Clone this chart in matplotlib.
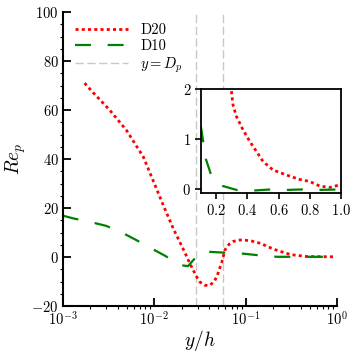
import matplotlib
matplotlib.use("Agg")
import matplotlib.pyplot as plt
import numpy as np

plt.rcParams['font.family'] = 'serif'
plt.rcParams['font.serif'] = ['cmr10', 'DejaVu Serif']
plt.rcParams['mathtext.fontset'] = 'cm'
plt.rcParams['axes.formatter.use_mathtext'] = True
plt.rcParams['axes.unicode_minus'] = True
plt.rcParams['lines.scale_dashes'] = False

# ---- data ----
d20_x = [0.00173, 0.00205, 0.00325, 0.00495, 0.00759, 0.00977, 0.0126, 0.0162,
         0.0209, 0.0245, 0.0290, 0.0316, 0.0355, 0.0398, 0.0447, 0.0484, 0.0550,
         0.0593, 0.0661, 0.0736, 0.0832, 0.0944, 0.117, 0.145, 0.202, 0.309, 0.468, 0.92]
d20_y = [71.0, 67.9, 60.0, 51.8, 40.9, 31.0, 21.0, 11.5,
         3.0, -2.6, -8.0, -10.2, -11.5, -11.6, -10.3, -8.0, -1.9,
         2.9, 5.3, 6.4, 6.9, 7.0, 6.5, 5.6, 3.2, 1.0, 0.2, 0.1]

d10_x = [0.001, 0.00129, 0.00196, 0.00299, 0.00437, 0.00638, 0.00933, 0.0133, 0.0191,
         0.0234, 0.0268, 0.031, 0.0376, 0.0571, 0.0871, 0.132, 0.219, 0.335, 0.708, 0.9]
d10_y = [16.9, 15.8, 14.4, 12.7, 10.1, 6.9, 3.5, 0.4, -3.3,
         -3.7, -1.2, 1.2, 2.2, 1.8, 1.5, 0.8, 0.1, 0.1, 0.1, 0.1]

dp_values = [0.0283, 0.0563]

ins_d20_x = [0.28, 0.297, 0.307, 0.329, 0.372, 0.415, 0.458, 0.50, 0.564, 0.65,
             0.736, 0.80, 0.864, 0.928, 0.993]
ins_d20_y = [2.2, 1.95, 1.68, 1.45, 1.18, 0.95, 0.75, 0.55, 0.38, 0.28,
             0.19, 0.15, 0.06, 0.03, 0.08]

ins_d10_x = [0.1, 0.115, 0.132, 0.164, 0.2, 0.24, 0.33, 0.45, 0.55, 0.65, 0.75, 0.85, 1.0]
ins_d10_y = [1.25, 0.95, 0.6, 0.3, 0.15, 0.06, -0.02, -0.03, -0.01, -0.02, -0.01, -0.02, -0.01]

xticks_main = [1e-3, 1e-2, 1e-1, 1e0]
yticks_main = [-20, 0, 20, 40, 60, 80, 100]
ins_xticks = [0.2, 0.4, 0.6, 0.8, 1.0]
ins_yticks = [0, 1, 2]

red_style = dict(color='red', lw=2.0, dashes=(2.2, 2.3))
green_style = dict(color='green', lw=1.6, dashes=(11.5, 12))

fig = plt.figure(figsize=(3.53, 3.53), dpi=100)
ax = fig.add_axes([0.178, 0.133, 0.777, 0.833])

ax.plot(d20_x, d20_y, label='D20', **red_style)
ax.plot(d10_x, d10_y, label='D10', **green_style)
for i, dp in enumerate(dp_values):
    ax.axvline(dp, color='#c8c8c8', lw=1.0, dashes=(6, 2.5),
               label='$y = D_p$' if i == 0 else None, zorder=0)

ax.set_xscale('log')
ax.set_xlim(1e-3, 1e0)
ax.set_ylim(-20, 100)
ax.set_xticks(xticks_main)
ax.set_yticks(yticks_main)
ax.yaxis.set_minor_locator(matplotlib.ticker.MultipleLocator(5))
ax.spines['top'].set_visible(False)
ax.spines['right'].set_visible(False)
for s in ['left', 'bottom']:
    ax.spines[s].set_linewidth(1.5)
ax.tick_params(which='major', direction='in', length=6, width=1.3, labelsize=10.5, pad=3)
ax.tick_params(which='minor', direction='out', length=2.5, width=0.8)
ax.set_xlabel('$y/h$', fontsize=14, labelpad=0)
ax.set_ylabel('$Re_p$', fontsize=14, labelpad=2)

leg = ax.legend(loc='upper left', frameon=False, fontsize=10.5, handlelength=3.7,
                handletextpad=0.8, labelspacing=0.15, borderaxespad=0.4)

ins = fig.add_axes([0.569, 0.452, 0.396, 0.296])
ins.plot(ins_d20_x, ins_d20_y, **red_style)
ins.plot(ins_d10_x, ins_d10_y, **green_style)
ins.set_xlim(0.1, 1.0)
ins.set_ylim(-0.09, 2.0)
ins.set_xticks(ins_xticks)
ins.set_yticks(ins_yticks)
for s in ins.spines.values():
    s.set_linewidth(1.3)
ins.tick_params(direction='out', length=4, width=1.2, labelsize=10.5, pad=3)

fig.savefig('out.png', dpi=100)
